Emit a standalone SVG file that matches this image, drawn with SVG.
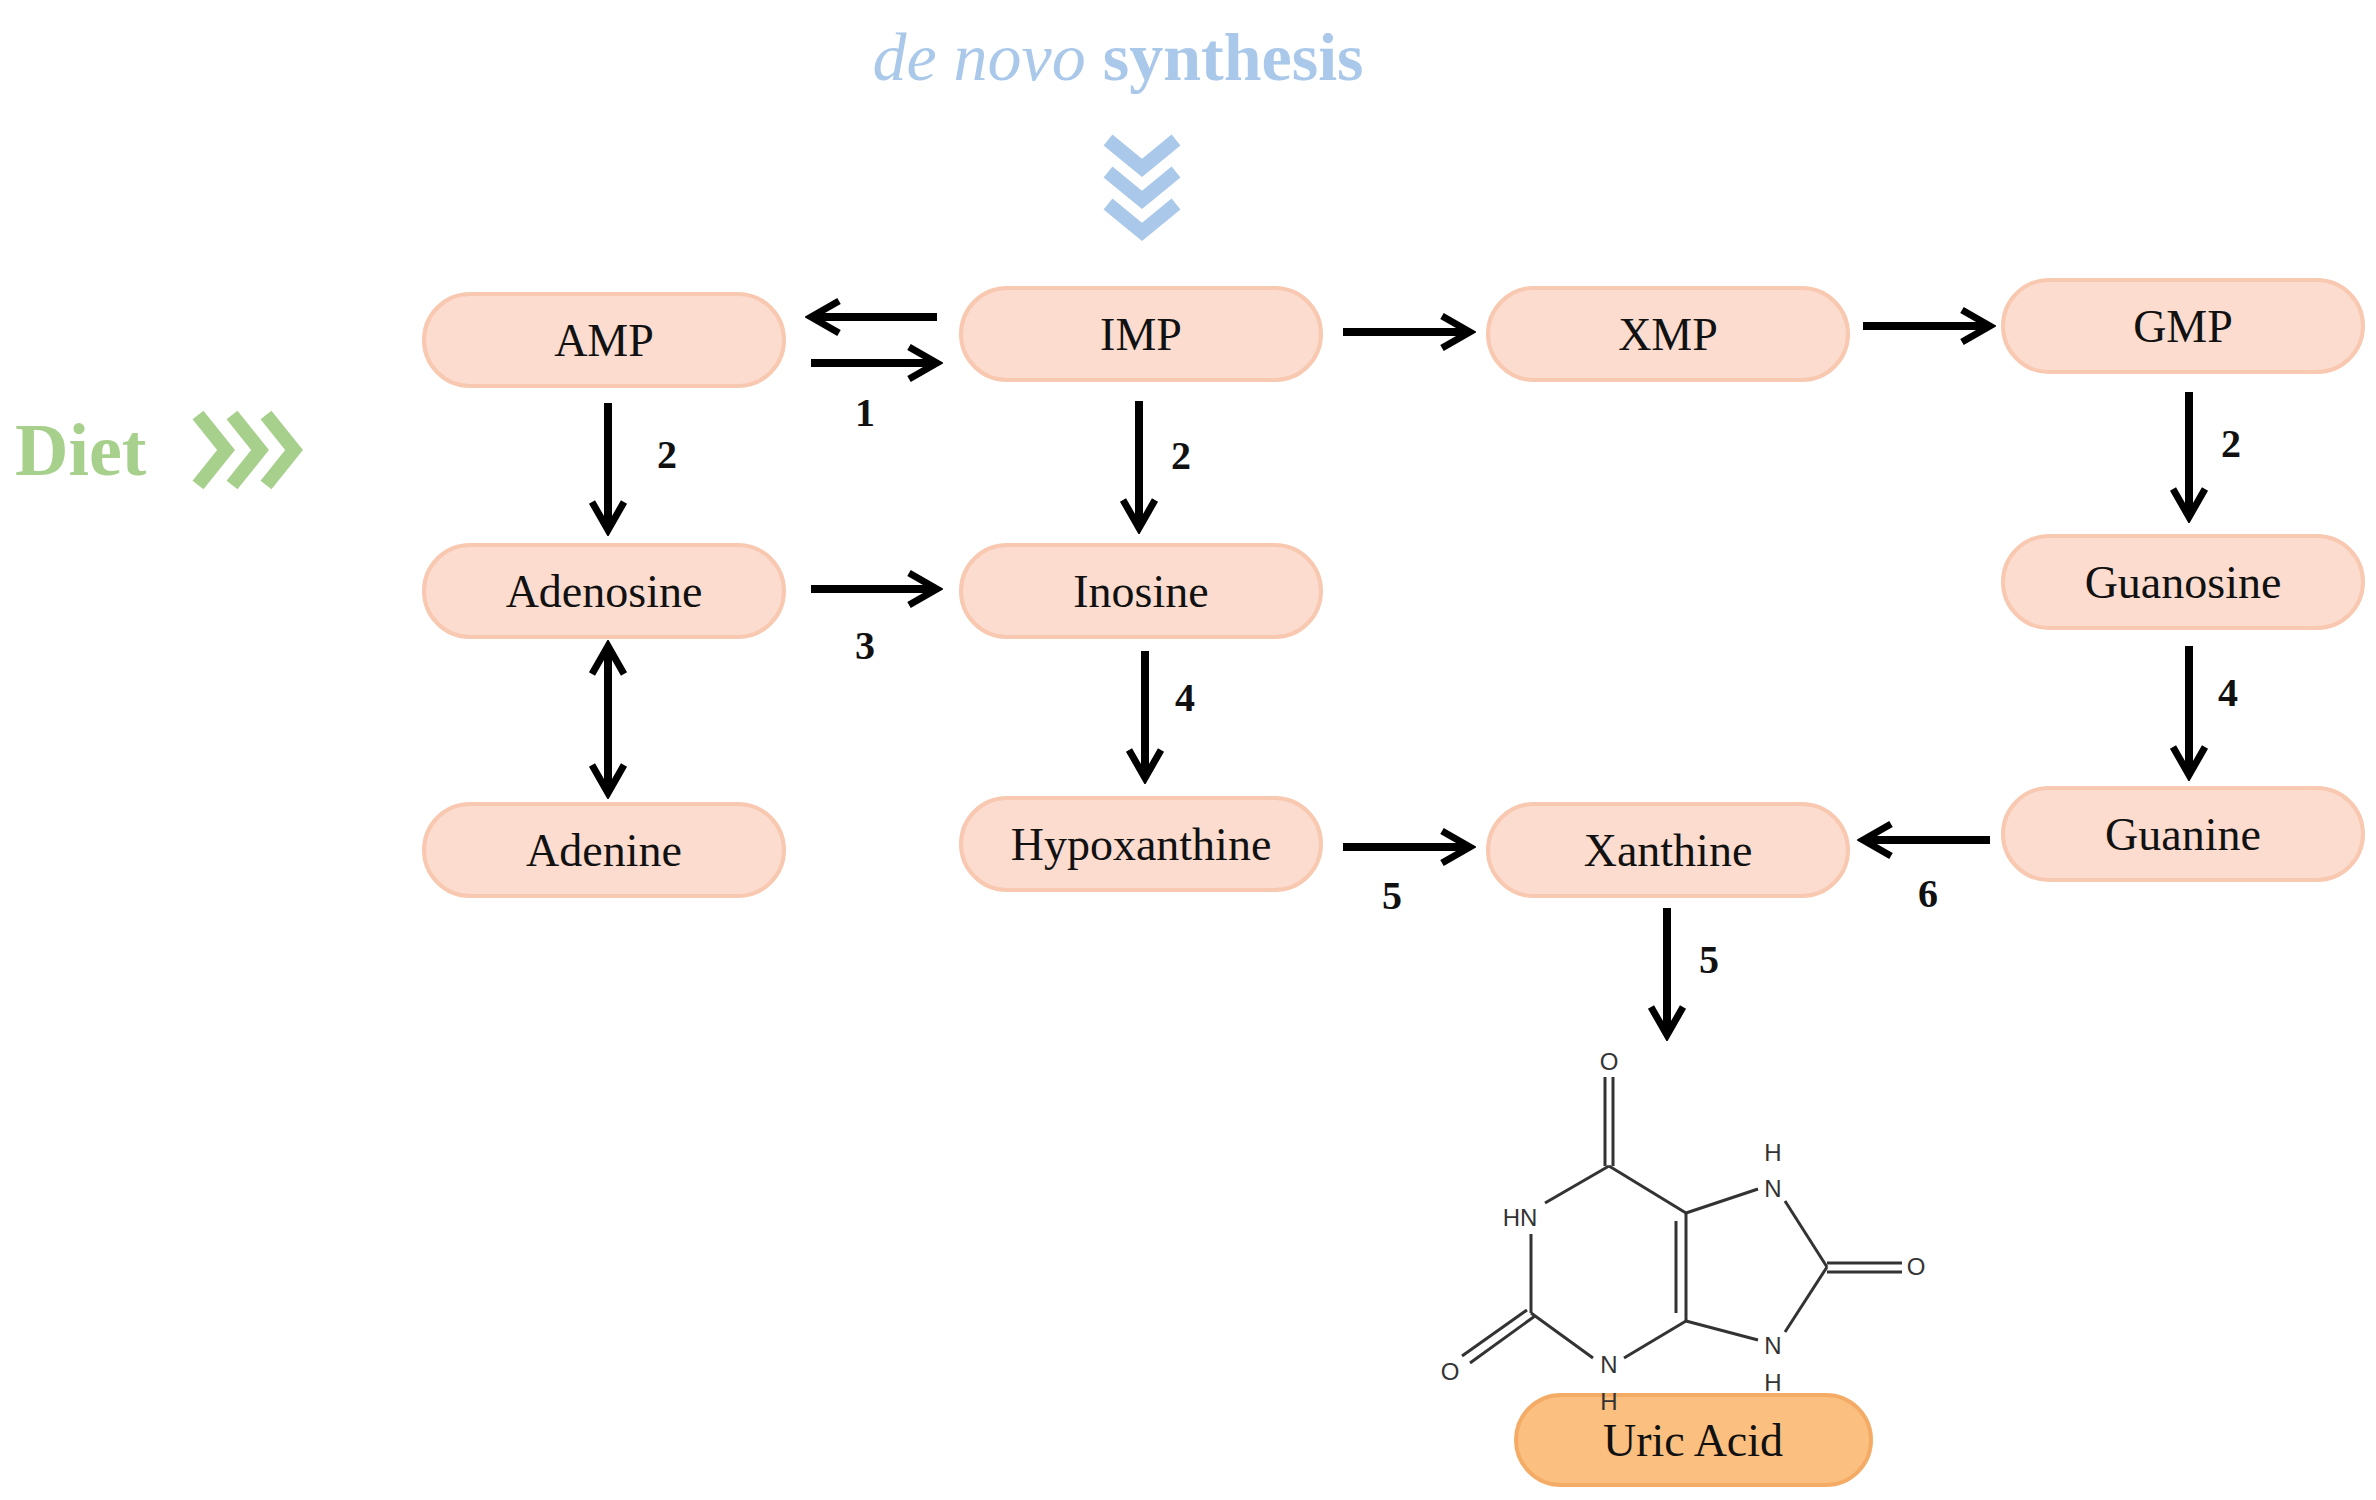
<svg xmlns="http://www.w3.org/2000/svg" width="2376" height="1500" viewBox="0 0 2376 1500">
<style>
.n{fill:#fbdccf;stroke:#f8c8b0;stroke-width:4}
.u{fill:#fbbf80;stroke:#f4ab66;stroke-width:4}
.t{font-family:"Liberation Serif",serif;font-size:46px;text-anchor:middle;fill:#111}
.c line{stroke:#000;stroke-width:8}
.lb{font-family:"Liberation Serif",serif;font-size:40px;font-weight:bold;text-anchor:middle;fill:#111}
.m line,.m polyline{stroke:#333;stroke-width:3;fill:none}
.a{font-family:"Liberation Sans",sans-serif;font-size:24px;text-anchor:middle;fill:#333}
</style>
<defs>
<marker id="h" viewBox="0 0 20 20" refX="17" refY="10" markerWidth="5" markerHeight="5" orient="auto-start-reverse" markerUnits="strokeWidth"><polyline points="3,2 17,10 3,18" fill="none" stroke="#000" stroke-width="3.5"/></marker>
</defs>
<rect width="2376" height="1500" fill="#fff"/>
<text x="1118" y="80" font-family="Liberation Serif,serif" font-size="68" fill="#a9c8ea" text-anchor="middle"><tspan font-style="italic">de novo</tspan> <tspan font-weight="bold">synthesis</tspan></text>
<g fill="none" stroke="#a9c8ea" stroke-width="14">
<polyline points="1108,140 1142,168 1176,140"/><polyline points="1108,172 1142,200 1176,172"/><polyline points="1108,204 1142,232 1176,204"/>
</g>
<text x="15" y="475" font-family="Liberation Serif,serif" font-size="74" font-weight="bold" fill="#a8d08d">Diet</text>
<g fill="none" stroke="#a8d08d" stroke-width="14">
<polyline points="198,415 226,450 198,485"/><polyline points="232,415 260,450 232,485"/><polyline points="266,415 294,450 266,485"/>
</g>
<g id="AMP"><rect class="n" x="424" y="294" width="360" height="92" rx="46"/><text class="t" x="604" y="356">AMP</text></g>
<g id="IMP"><rect class="n" x="961" y="288" width="360" height="92" rx="46"/><text class="t" x="1141" y="350">IMP</text></g>
<g id="XMP"><rect class="n" x="1488" y="288" width="360" height="92" rx="46"/><text class="t" x="1668" y="350">XMP</text></g>
<g id="GMP"><rect class="n" x="2003" y="280" width="360" height="92" rx="46"/><text class="t" x="2183" y="342">GMP</text></g>
<g id="Adenosine"><rect class="n" x="424" y="545" width="360" height="92" rx="46"/><text class="t" x="604" y="607">Adenosine</text></g>
<g id="Inosine"><rect class="n" x="961" y="545" width="360" height="92" rx="46"/><text class="t" x="1141" y="607">Inosine</text></g>
<g id="Guanosine"><rect class="n" x="2003" y="536" width="360" height="92" rx="46"/><text class="t" x="2183" y="598">Guanosine</text></g>
<g id="Adenine"><rect class="n" x="424" y="804" width="360" height="92" rx="46"/><text class="t" x="604" y="866">Adenine</text></g>
<g id="Hypoxanthine"><rect class="n" x="961" y="798" width="360" height="92" rx="46"/><text class="t" x="1141" y="860">Hypoxanthine</text></g>
<g id="Xanthine"><rect class="n" x="1488" y="804" width="360" height="92" rx="46"/><text class="t" x="1668" y="866">Xanthine</text></g>
<g id="Guanine"><rect class="n" x="2003" y="788" width="360" height="92" rx="46"/><text class="t" x="2183" y="850">Guanine</text></g>
<g id="UricAcid"><rect class="u" x="1516" y="1395" width="355" height="90" rx="45"/><text class="t" x="1693" y="1456">Uric Acid</text></g>
<g class="c" id="connectors">
<line x1="937" y1="317" x2="811" y2="317" marker-end="url(#h)"/>
<line x1="811" y1="363" x2="937" y2="363" marker-end="url(#h)"/>
<line x1="1343" y1="332" x2="1470" y2="332" marker-end="url(#h)"/>
<line x1="1863" y1="326" x2="1990" y2="326" marker-end="url(#h)"/>
<line x1="608" y1="403" x2="608" y2="530" marker-end="url(#h)"/>
<line x1="1139" y1="401" x2="1139" y2="528" marker-end="url(#h)"/>
<line x1="2189" y1="392" x2="2189" y2="517" marker-end="url(#h)"/>
<line x1="811" y1="589" x2="937" y2="589" marker-end="url(#h)"/>
<line x1="608" y1="646" x2="608" y2="793" marker-start="url(#h)" marker-end="url(#h)"/>
<line x1="1145" y1="651" x2="1145" y2="778" marker-end="url(#h)"/>
<line x1="2189" y1="646" x2="2189" y2="775" marker-end="url(#h)"/>
<line x1="1343" y1="847" x2="1470" y2="847" marker-end="url(#h)"/>
<line x1="1990" y1="840" x2="1863" y2="840" marker-end="url(#h)"/>
<line x1="1667" y1="908" x2="1667" y2="1035" marker-end="url(#h)"/>
</g>
<g id="labels">
<text class="lb" x="865" y="426">1</text>
<text class="lb" x="667" y="468">2</text>
<text class="lb" x="1181" y="469">2</text>
<text class="lb" x="2231" y="457">2</text>
<text class="lb" x="865" y="659">3</text>
<text class="lb" x="1185" y="711">4</text>
<text class="lb" x="2228" y="706">4</text>
<text class="lb" x="1392" y="909">5</text>
<text class="lb" x="1928" y="907">6</text>
<text class="lb" x="1709" y="973">5</text>
</g>
<g id="uric-structure" class="m">
<line x1="1605" y1="1077" x2="1605" y2="1166"/><line x1="1613" y1="1077" x2="1613" y2="1166"/>
<line x1="1609" y1="1166" x2="1545" y2="1203"/>
<line x1="1531" y1="1234" x2="1531" y2="1313"/>
<line x1="1527" y1="1310" x2="1462" y2="1356"/><line x1="1535" y1="1316" x2="1470" y2="1363"/>
<line x1="1531" y1="1313" x2="1593" y2="1358"/>
<line x1="1624" y1="1358" x2="1686" y2="1321"/>
<line x1="1686" y1="1321" x2="1686" y2="1213"/><line x1="1676" y1="1313" x2="1676" y2="1221"/>
<line x1="1686" y1="1213" x2="1609" y2="1166"/>
<line x1="1686" y1="1213" x2="1758" y2="1189"/>
<line x1="1785" y1="1201" x2="1827" y2="1267"/>
<line x1="1827" y1="1263" x2="1902" y2="1263"/><line x1="1827" y1="1272" x2="1902" y2="1272"/>
<line x1="1827" y1="1267" x2="1785" y2="1332"/>
<line x1="1686" y1="1321" x2="1758" y2="1340"/>
<text class="a" x="1609" y="1070" stroke="none">O</text>
<text class="a" x="1520" y="1226" stroke="none">HN</text>
<text class="a" x="1450" y="1380" stroke="none">O</text>
<text class="a" x="1609" y="1373" stroke="none">N</text>
<text class="a" x="1609" y="1410" stroke="none">H</text>
<text class="a" x="1773" y="1197" stroke="none">N</text>
<text class="a" x="1773" y="1161" stroke="none">H</text>
<text class="a" x="1916" y="1275" stroke="none">O</text>
<text class="a" x="1773" y="1354" stroke="none">N</text>
<text class="a" x="1773" y="1391" stroke="none">H</text>
</g>
</svg>
